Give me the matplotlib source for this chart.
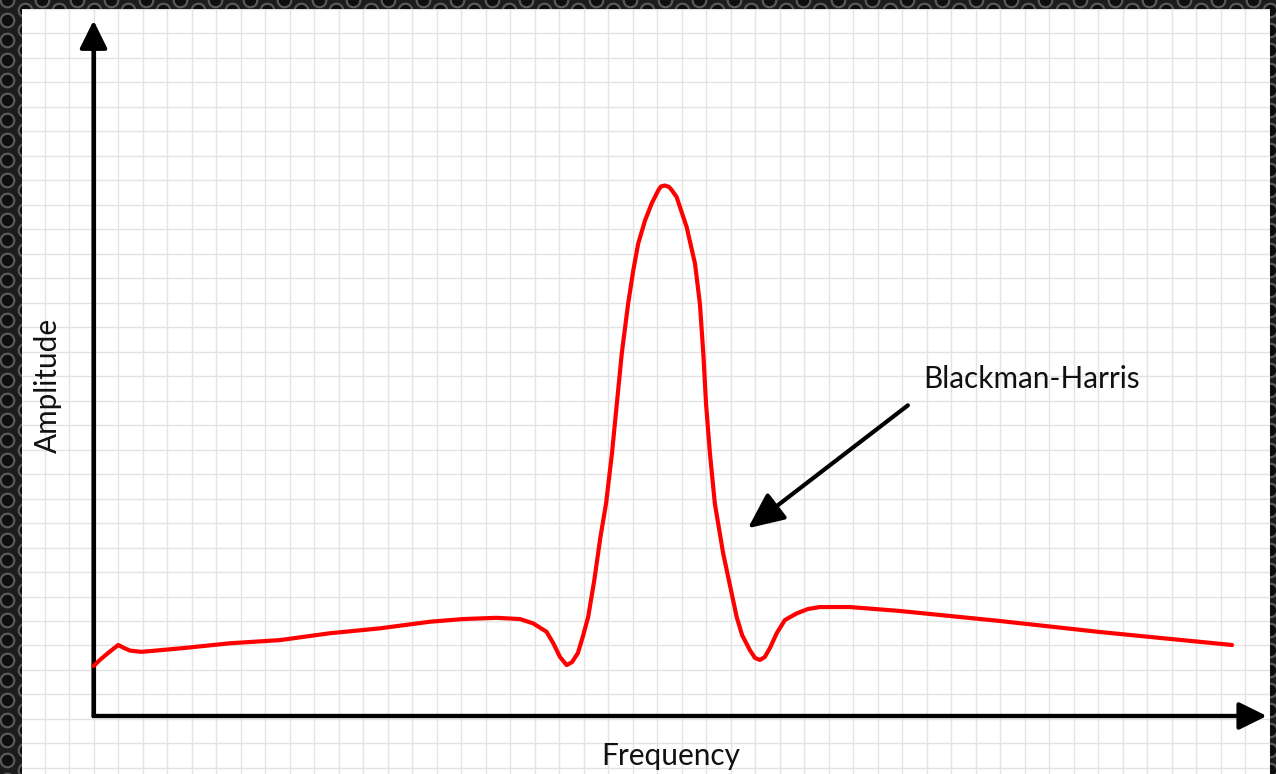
import numpy as np
import matplotlib
matplotlib.use('Agg')
import matplotlib.pyplot as plt

# Blackman-Harris window spectrum (1 unit = 1 grid cell)
freq = [0.00, 0.26, 0.59, 1.01, 1.24, 1.49, 1.96, 3.53, 5.57, 7.61, 9.65, 11.69,
        13.73, 15.09, 16.45, 17.40, 17.95, 18.49, 18.76, 19.04, 19.31, 19.53,
        19.77, 19.98, 20.19, 20.44, 20.69, 20.92, 21.16, 21.36, 21.56, 21.82,
        22.03, 22.23, 22.51, 22.78, 23.05, 23.16, 23.32, 23.49, 23.61, 23.80,
        24.21, 24.55, 24.75, 24.89, 25.00, 25.16, 25.36, 25.70, 26.25, 26.47,
        26.79, 27.00, 27.20, 27.40, 27.61, 27.89, 28.22, 28.70, 29.16, 29.65,
        30.87, 32.91, 37.00, 41.08, 46.47]
amplitude = [2.04, 2.29, 2.57, 2.90, 2.78, 2.67, 2.62, 2.76, 2.97, 3.10, 3.38, 3.58,
             3.85, 3.96, 4.01, 3.96, 3.78, 3.44, 2.98, 2.41, 2.08, 2.20,
             2.57, 3.27, 4.05, 5.55, 7.31, 8.68, 10.72, 12.76, 14.80, 16.84,
             18.20, 19.29, 20.24, 20.93, 21.47, 21.63, 21.67, 21.61, 21.47, 21.20,
             19.97, 18.48, 16.84, 14.80, 12.76, 10.72, 8.68, 6.64, 4.05, 3.31,
             2.69, 2.37, 2.29, 2.41, 2.78, 3.39, 3.92, 4.19, 4.37, 4.45,
             4.45, 4.29, 3.88, 3.43, 2.90]

label_text = 'Blackman-Harris'
x_label = 'Frequency'
y_label = 'Amplitude'

W, H = 1276, 774
fig = plt.figure(figsize=(W / 100, H / 100), dpi=100)
fig.patch.set_facecolor('#1c1c1c')

# perforated metal backdrop
bg = fig.add_axes([0, 0, 1, 1])
bg.set_xlim(0, W)
bg.set_ylim(H, 0)
bg.axis('off')
cols = np.arange(-10, W + 20, 17.3)
hx, hy = [], []
for i, cx in enumerate(cols):
    ys = np.arange(-10, H + 20, 20) + (10 if i % 2 else 0)
    hx.extend([cx] * len(ys))
    hy.extend(ys)
bg.scatter(hx, hy, s=95, facecolor='#0e0e0e', edgecolor='#5a5a5a', linewidth=1.6)

# white grid panel
left, right, top = 22, 1270, 9
ax = fig.add_axes([left / W, 0, (right - left) / W, (H - top) / H])
ax.set_facecolor('white')
ax.set_xlim(-2.92, 48.02)
ax.set_ylim(-2.37, 28.86)
ax.set_xticks(np.arange(-2, 49))
ax.set_yticks(np.arange(-2, 30) - 0.12)
ax.grid(True, color='#e3e3e3', linewidth=1.0)
ax.set_axisbelow(True)
ax.tick_params(length=0, labelbottom=False, labelleft=False)
for s in ax.spines.values():
    s.set_visible(False)

# axes with arrows
ax.plot([0, 0, 47.0], [27.5, 0, 0], color='black', lw=3, solid_joinstyle='miter',
        zorder=3)
arrow_kw = dict(arrowstyle='-|>,head_length=0.85,head_width=0.42', color='black',
                lw=3, shrinkA=0, shrinkB=0, mutation_scale=20)
ax.annotate('', xy=(0, 28.41), xytext=(0, 0), arrowprops=arrow_kw, zorder=3)
ax.annotate('', xy=(47.89, 0), xytext=(0, 0), arrowprops=arrow_kw, zorder=3)

# spectrum
ax.plot(freq, amplitude, color='#ff0000', lw=3, solid_joinstyle='round',
        solid_capstyle='round', zorder=4)

# annotation
ax.annotate('', xy=(26.71, 7.67), xytext=(33.24, 12.69),
            arrowprops=dict(arrowstyle='-|>,head_length=1.1,head_width=0.5',
                            color='black', lw=3, shrinkA=0, shrinkB=0,
                            mutation_scale=20), zorder=5)
ax.text(33.85, 13.39, label_text, fontsize=21.4, family='Lato', va='baseline',
        ha='left', color='#111111')

ax.text(23.55, -2.0, x_label, fontsize=21.4, family='Lato', va='baseline',
        ha='center', color='#111111')
ax.text(-1.86, 13.51, y_label, fontsize=21.4, family='Lato', va='center',
        ha='center', rotation=90, color='#111111')

fig.savefig('out.png', dpi=100, facecolor=fig.get_facecolor())
